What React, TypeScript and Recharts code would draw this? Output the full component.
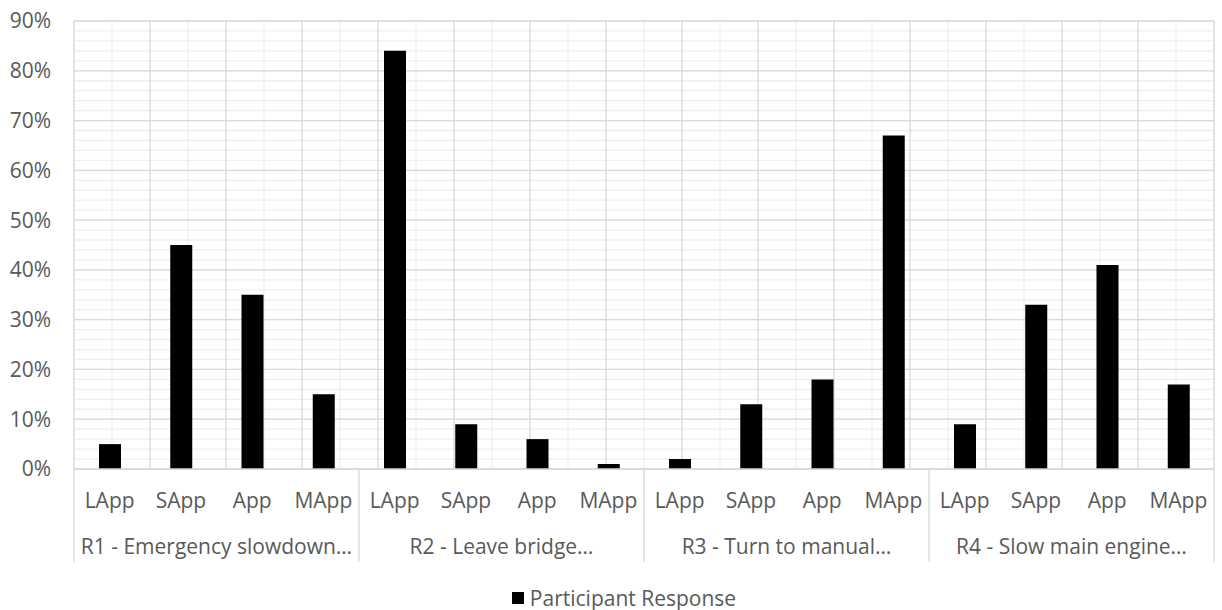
import React from 'react';
import { BarChart, Bar, XAxis, YAxis, CartesianGrid, Legend } from 'recharts';

const groups = ['R1 - Emergency slowdown…', 'R2 - Leave bridge…', 'R3 - Turn to manual…', 'R4 - Slow main engine…'];
const levels = ['LApp', 'SApp', 'App', 'MApp'];
const r1 = [0.05, 0.45, 0.35, 0.15];
const r2 = [0.84, 0.09, 0.06, 0.01];
const r3 = [0.02, 0.13, 0.18, 0.67];
const r4 = [0.09, 0.33, 0.41, 0.17];
const yTicks = [0, 0.1, 0.2, 0.3, 0.4, 0.5, 0.6, 0.7, 0.8, 0.9];

const groupValues = [r1, r2, r3, r4];
const data = groups.flatMap((g, gi) =>
  levels.map((lv, li) => ({ key: `${gi}-${li}`, level: lv, group: g, value: groupValues[gi][li] }))
);

const W = 1222;
const H = 610;
const M = { top: 21, right: 8, left: 0, bottom: 0 };
const Y_W = 74;
const PLOT_W = W - M.left - M.right - Y_W;
const N = data.length;
const BAND = PLOT_W / N;
const Y_MAX = 0.9;

// minor gridlines every 2%, category boundaries and centres
const minorY = Array.from({ length: 46 }, (_, i) => (i * 2) / 100);
const majorX = Array.from({ length: N + 1 }, (_, i) => i);
const minorX = Array.from({ length: N }, (_, i) => i + 0.5);

const FONT = '"Open Sans", sans-serif';
const FS = 21;
const TXT = '#595959';
const LINE = '#d9d9d9';
const MINOR = '#efefef';

const minorRows = ({ yAxis, offset }: any) =>
  minorY.map((v) =>
    yAxis && typeof yAxis.scale === 'function'
      ? yAxis.scale(v)
      : offset.top + offset.height * (1 - v / Y_MAX)
  );

const CatTick = (props: any) => {
  const { x, y, index } = props;
  const d = data[index];
  if (!d) return null;
  return (
    <g>
      <text x={x} y={y + 39} textAnchor="middle" fill={TXT} fontSize={FS} fontFamily={FONT}>
        {d.level}
      </text>
      {index % 4 === 0 && (
        <>
          <line x1={x - BAND / 2} x2={x - BAND / 2} y1={y} y2={y + 93} stroke={LINE} strokeWidth={1.3} />
          <text x={x + 1.5 * BAND} y={y + 85} textAnchor="middle" fill={TXT} fontSize={FS} fontFamily={FONT}>
            {d.group}
          </text>
        </>
      )}
      {index === N - 1 && (
        <line x1={x + BAND / 2} x2={x + BAND / 2} y1={y} y2={y + 93} stroke={LINE} strokeWidth={1.3} />
      )}
    </g>
  );
};

const LegendContent = () => (
  <div
    style={{
      display: 'flex',
      justifyContent: 'center',
      alignItems: 'center',
      fontFamily: FONT,
      fontSize: FS,
      lineHeight: '24px',
      height: 24,
      paddingLeft: 34,
      color: TXT,
    }}
  >
    <span style={{ width: 12, height: 12, background: '#000', display: 'inline-block', marginRight: 6 }} />
    <span>Participant Response</span>
  </div>
);

export default function App() {
  return (
    <div>
      <style>{'body{margin:0;background:#fff}'}</style>
      <BarChart width={W} height={H} data={data} margin={M} barCategoryGap="0%">
        <XAxis
          dataKey="key"
          height={117}
          interval={0}
          tick={<CatTick />}
          tickLine={false}
          tickSize={0}
          tickMargin={0}
          axisLine={{ stroke: LINE, strokeWidth: 1.3 }}
        />
        <XAxis xAxisId="major" type="number" domain={[0, N]} ticks={majorX} interval={0} hide />
        <XAxis xAxisId="minor" type="number" domain={[0, N]} ticks={minorX} interval={0} hide />
        <YAxis
          domain={[0, Y_MAX]}
          ticks={yTicks}
          width={Y_W}
          tickFormatter={(v: number) => `${Math.round(v * 100)}%`}
          tick={{ fill: TXT, fontSize: FS, fontFamily: FONT }}
          tickLine={false}
          axisLine={false}
          tickMargin={17}
        />
        <CartesianGrid
          xAxisId="minor"
          stroke={MINOR}
          strokeWidth={1.3}
          horizontalCoordinatesGenerator={minorRows}
        />
        <CartesianGrid xAxisId="major" stroke={LINE} strokeWidth={1.3} />
        <Legend verticalAlign="bottom" height={24} content={<LegendContent />} />
        <Bar dataKey="value" fill="#000" barSize={22} isAnimationActive={false} />
      </BarChart>
    </div>
  );
}
